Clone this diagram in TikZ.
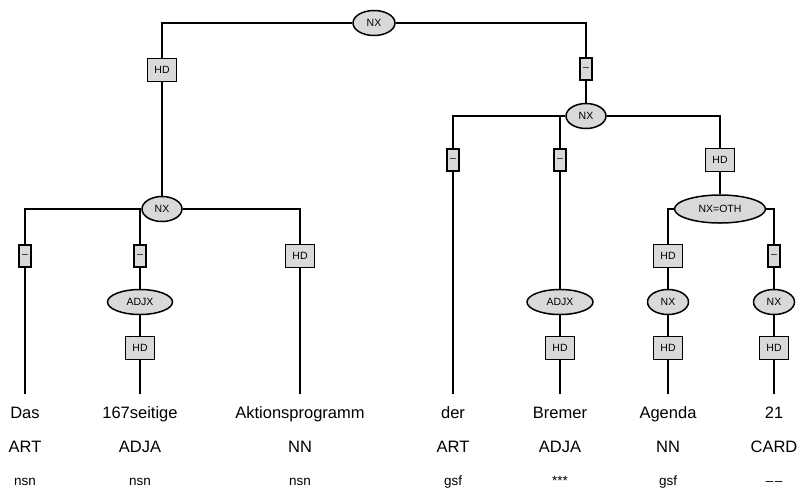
\documentclass[tikz,border=0pt]{standalone}
\usepackage{fontspec}
\setmainfont{Liberation Sans}
\usetikzlibrary{positioning}
\usetikzlibrary{shapes.geometric}

\begin{document}
\begin{tikzpicture}[x=1pt, y=-1pt, line width=1.5pt,
  cat/.style={ellipse, draw, fill=black!15, inner sep=0pt, minimum height=25,
    font=\fontsize{10.5}{12}\selectfont},
  fn/.style={rectangle, draw, fill=black!15, inner sep=0pt, minimum height=23,
    minimum width=29, font=\fontsize{10.5}{12}\selectfont},
  fndash/.style={fn, minimum width=12, minimum height=22},
  word/.style={anchor=base, inner sep=0pt, text height=23pt, text depth=3pt,
    font=\fontsize{16.5}{18}\selectfont},
  tag/.style={anchor=base, inner sep=1pt, font=\fontsize{16.5}{18}\selectfont},
  morph/.style={anchor=base, inner sep=1pt, font=\fontsize{13.5}{15}\selectfont}]
\def\yw{418}
\def\yt{452}
\def\ym{485}

\useasboundingbox (0,0) rectangle (799,491);

\node[cat, minimum width=42] (top) at (374,23) {NX};
\node[fn] (hdTop) at (162,70) {HD};
\node[fndash] (dTop) at (586,69) {--};

\node[cat, minimum width=40] (nxL) at (162,209) {NX};
\node[cat, minimum width=40] (nxR) at (586,116) {NX};

\node[fndash] (dDas) at (25,256) {--};
\node[fndash] (dSeit) at (140,256) {--};
\node[fn] (hdAkt) at (300,256) {HD};
\node[cat, minimum width=65] (adjL) at (140,302) {ADJX};
\node[fn] (hdSeit) at (140,348) {HD};

\node[fndash] (dDer) at (453,160) {--};
\node[fndash] (dBrem) at (560,160) {--};
\node[fn] (hdOth) at (720,160) {HD};
\node[cat, minimum width=66] (adjR) at (560,302) {ADJX};
\node[fn] (hdBrem) at (560,348) {HD};

\node[cat, minimum width=91, minimum height=28] (oth) at (720,209) {NX=OTH};
\node[fn] (hdAg) at (668,256) {HD};
\node[fndash] (dCard) at (774,256) {--};
\node[cat, minimum width=41] (nxAg) at (668,302) {NX};
\node[cat, minimum width=41] (nxCard) at (774,302) {NX};
\node[fn] (hdAg2) at (668,348) {HD};
\node[fn] (hdCard) at (774,348) {HD};

\node[word] (wDas) at (25,\yw) {Das};
\node[word] (wSeit) at (140,\yw) {167seitige};
\node[word] (wAkt) at (300,\yw) {Aktionsprogramm};
\node[word] (wDer) at (453,\yw) {der};
\node[word] (wBrem) at (560,\yw) {Bremer};
\node[word] (wAg) at (668,\yw) {Agenda};
\node[word] (wCard) at (774,\yw) {21};

\node[tag] (tDas) at (25,\yt) {ART};
\node[tag] (tSeit) at (140,\yt) {ADJA};
\node[tag] (tAkt) at (300,\yt) {NN};
\node[tag] (tDer) at (453,\yt) {ART};
\node[tag] (tBrem) at (560,\yt) {ADJA};
\node[tag] (tAg) at (668,\yt) {NN};
\node[tag] (tCard) at (774,\yt) {CARD};

\node[morph] (mDas) at (25,\ym) {nsn};
\node[morph] (mSeit) at (140,\ym) {nsn};
\node[morph] (mAkt) at (300,\ym) {nsn};
\node[morph] (mDer) at (453,\ym) {gsf};
\node[morph] (mBrem) at (560,\ym) {***};
\node[morph] (mAg) at (668,\ym) {gsf};
\node[morph] (mCard) at (774,\ym) {--\kern1.5pt--};

\draw (top) -| (hdTop);
\draw (top) -| (dTop);
\draw (hdTop) -- (nxL);
\draw (dTop) -- (nxR);

\draw (nxL) -| (dDas);
\draw (nxL) -| (dSeit);
\draw (nxL) -| (hdAkt);
\draw (dDas) -- (wDas);
\draw (dSeit) -- (adjL) -- (hdSeit) -- (wSeit);
\draw (hdAkt) -- (wAkt);

\draw (nxR) -| (dDer);
\draw (nxR) -| (dBrem);
\draw (nxR) -| (hdOth);
\draw (dDer) -- (wDer);
\draw (dBrem) -- (adjR) -- (hdBrem) -- (wBrem);
\draw (hdOth) -- (oth);

\draw (oth) -| (hdAg);
\draw (oth) -| (dCard);
\draw (hdAg) -- (nxAg) -- (hdAg2) -- (wAg);
\draw (dCard) -- (nxCard) -- (hdCard) -- (wCard);
\end{tikzpicture}
\end{document}
